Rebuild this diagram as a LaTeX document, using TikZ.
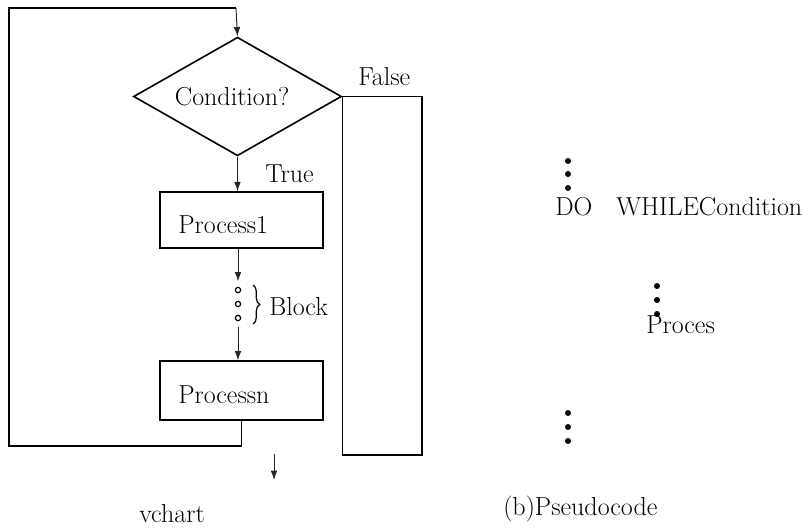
\documentclass[tikz,border=0pt]{standalone}
\usepackage{fontspec}
\usetikzlibrary{shapes.geometric,arrows.meta,positioning,decorations.pathreplacing}

\begin{document}
\begin{tikzpicture}[
        x=0.75pt, y=-0.75pt,
        every node/.style={font=\fontsize{19.5}{23}\selectfont, inner sep=0pt},
        procbox/.style={draw, line width=1.2pt, minimum width=122pt, minimum height=42pt},
        decision/.style={diamond, draw, line width=1.2pt, aspect=1.75, minimum width=156pt, minimum height=89pt},
        loopline/.style={line width=1.2pt},
        flowarrow/.style={->, line width=0.7pt, black!85},
        ring/.style={circle, draw, line width=0.9pt, minimum size=4pt},
        bullet/.style={circle, fill, minimum size=4.5pt},
        >={Latex[length=7pt,width=5pt]}
    ]
        \useasboundingbox (0,0) rectangle (803,528);

        % Nodes
        \node[decision] (cond) at (237.5,96.5) {Condition?\hspace*{8pt}};
        \node[procbox] (p1) at (241.5,220) {};
        \node[anchor=base west] (p1txt) at (178,233) {Process1};
        \node[procbox, minimum height=44pt] (pn) at (241.5,390.5) {};
        \node[anchor=base west] (pntxt) at (178,403) {Processn};
        \node[anchor=base west] (true) at (265,182) {True};
        \node[anchor=base west] (false) at (358,86) {False};
        \foreach \i/\y in {1/290,2/304,3/318}
            \node[ring] (r\i) at (238,\y) {};
        \node[anchor=base west] (block) at (269,315) {Block};
        \node[anchor=base west] (capa) at (139,522) {vchart};

        \coordinate (looptop) at (236,8);
        \coordinate (loopbl) at (9,446);
        \coordinate (fbot) at (422,455);
        \coordinate (brtop) at (253,285);
        \coordinate (brbot) at (253,324);
        \coordinate (outtop) at (274,454);
        \coordinate (outbot) at (274,480);

        % Pseudocode side
        \foreach \i/\y in {1/161,2/174,3/188}
            \node[bullet] (da\i) at (568,\y) {};
        \node[anchor=base west] (do) at (555,215) {DO};
        \node[anchor=base west] (while) at (616,215) {WHILECondition};
        \foreach \i/\y in {1/286,2/300,3/314}
            \node[bullet] (db\i) at (657,\y) {};
        \node[anchor=base west] (proc) at (646,333) {Proces};
        \foreach \i/\y in {1/413,2/427,3/441}
            \node[bullet] (dc\i) at (568,\y) {};
        \node[anchor=base west] (capb) at (503,515) {(b)Pseudocode};

        % Arrows
        \draw[flowarrow] (looptop) -- (cond.north);
        \draw[flowarrow] (cond.south) -- (cond.south |- p1.north);
        \draw[flowarrow] (r1 |- p1.south) -- ([yshift=4pt]r1.north);
        \draw[flowarrow, shorten <=4pt] (r3.south) -- (r3 |- pn.north);
        \draw[loopline] (pn.south) |- (loopbl) |- (looptop);
        \draw[loopline] (cond.east) -| (fbot) -| (cond.east);
        \draw[flowarrow] (outtop) -- (outbot);
        \draw[decorate, decoration={brace, amplitude=5pt}, line width=0.9pt] (brtop) -- (brbot);
    \end{tikzpicture}
\end{document}
